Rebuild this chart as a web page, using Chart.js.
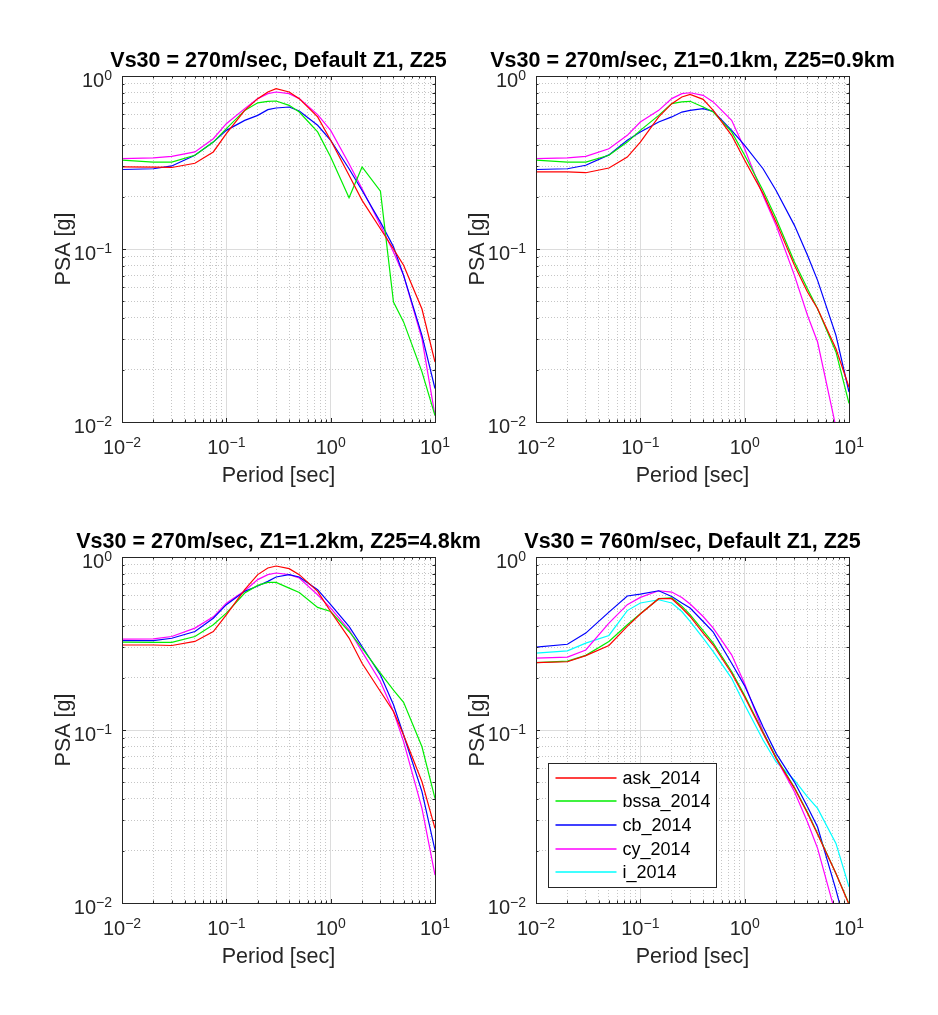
<!DOCTYPE html>
<html>
<head>
<meta charset="utf-8">
<script src="https://cdn.jsdelivr.net/npm/chart.js@4.4.0/dist/chart.umd.min.js"></script>
<style>
  body { margin: 0; background: #fff; }
  #fig { position: relative; width: 938px; height: 1015px; }
  #fig canvas { position: absolute; left: 0; top: 0; }
</style>
</head>
<body>
<div id="fig">
  <canvas id="c0" width="938" height="1015"></canvas>
  <canvas id="c1" width="938" height="1015"></canvas>
  <canvas id="c2" width="938" height="1015"></canvas>
  <canvas id="c3" width="938" height="1015"></canvas>
</div>
<script>
// --- Data ---
const periods = [0.01, 0.02, 0.03, 0.05, 0.075, 0.1, 0.15, 0.2, 0.25, 0.3, 0.4, 0.5, 0.75, 1, 1.5, 2, 3, 4, 5, 7.5, 10];
const modelNames = ["ask_2014", "bssa_2014", "cb_2014", "cy_2014", "i_2014"];
const panelTitles = [
  "Vs30 = 270m/sec, Default Z1, Z25",
  "Vs30 = 270m/sec, Z1=0.1km, Z25=0.9km",
  "Vs30 = 270m/sec, Z1=1.2km, Z25=4.8km",
  "Vs30 = 760m/sec, Default Z1, Z25"
];
const xMajorTicks = [0.01, 0.1, 1, 10];
const xTickLabels = ["10^-2", "10^-1", "10^0", "10^1"];
const yMajorTicks = [0.01, 0.1, 1];
const yTickLabels = ["10^-2", "10^-1", "10^0"];
const xAxisTitle = "Period [sec]";
const yAxisTitle = "PSA [g]";

// Vs30 = 270, default Z1, Z25
const ask1  = [0.298, 0.297, 0.296, 0.313, 0.364, 0.464, 0.633, 0.740, 0.808, 0.845, 0.808, 0.740, 0.580, 0.425, 0.267, 0.191, 0.131, 0.100, 0.0805, 0.045, 0.0222];
const bssa1 = [0.326, 0.318, 0.318, 0.348, 0.415, 0.496, 0.633, 0.700, 0.714, 0.717, 0.677, 0.619, 0.475, 0.340, 0.198, 0.298, 0.216, 0.0494, 0.0379, 0.0195, 0.0109];
const cb1   = [0.288, 0.291, 0.302, 0.348, 0.415, 0.485, 0.554, 0.592, 0.639, 0.653, 0.662, 0.628, 0.519, 0.425, 0.291, 0.218, 0.143, 0.103, 0.0704, 0.0317, 0.0156];
const cy1   = [0.333, 0.336, 0.343, 0.364, 0.434, 0.530, 0.648, 0.740, 0.791, 0.808, 0.791, 0.740, 0.598, 0.485, 0.311, 0.223, 0.137, 0.096, 0.0704, 0.0303, 0.0109];

// Vs30 = 270, Z1 = 0.1km, Z25 = 0.9km
const ask2  = [0.279, 0.279, 0.276, 0.294, 0.340, 0.415, 0.580, 0.692, 0.756, 0.783, 0.733, 0.633, 0.454, 0.326, 0.209, 0.143, 0.0805, 0.0564, 0.0452, 0.0265, 0.0159];
const bssa2 = [0.326, 0.318, 0.318, 0.348, 0.415, 0.485, 0.592, 0.692, 0.708, 0.714, 0.662, 0.619, 0.475, 0.348, 0.218, 0.150, 0.0841, 0.059, 0.0452, 0.0254, 0.0128];
const cb2   = [0.288, 0.291, 0.305, 0.350, 0.425, 0.474, 0.542, 0.580, 0.619, 0.633, 0.648, 0.625, 0.485, 0.397, 0.291, 0.218, 0.137, 0.0919, 0.0659, 0.0317, 0.0149];
const cy2   = [0.333, 0.336, 0.343, 0.380, 0.454, 0.542, 0.633, 0.740, 0.791, 0.800, 0.773, 0.708, 0.554, 0.380, 0.204, 0.137, 0.0704, 0.0414, 0.029, 0.0093, 0.0049];

// Vs30 = 270, Z1 = 1.2km, Z25 = 4.8km
const ask3  = [0.310, 0.310, 0.308, 0.325, 0.371, 0.463, 0.647, 0.791, 0.864, 0.887, 0.856, 0.791, 0.633, 0.484, 0.340, 0.243, 0.167, 0.128, 0.0935, 0.0502, 0.027];
const bssa3 = [0.322, 0.321, 0.321, 0.347, 0.406, 0.474, 0.619, 0.685, 0.713, 0.713, 0.661, 0.623, 0.511, 0.484, 0.371, 0.297, 0.213, 0.170, 0.1445, 0.080, 0.0402];
const cb3   = [0.329, 0.329, 0.339, 0.371, 0.443, 0.530, 0.633, 0.680, 0.723, 0.766, 0.791, 0.766, 0.647, 0.530, 0.397, 0.304, 0.208, 0.140, 0.0935, 0.044, 0.0202];
const cy3   = [0.335, 0.336, 0.347, 0.388, 0.451, 0.541, 0.638, 0.740, 0.791, 0.808, 0.791, 0.756, 0.605, 0.507, 0.379, 0.284, 0.190, 0.128, 0.0856, 0.0352, 0.0145];

// Vs30 = 760, default Z1, Z25
const ask4  = [0.245, 0.248, 0.269, 0.308, 0.397, 0.468, 0.574, 0.574, 0.507, 0.453, 0.363, 0.310, 0.213, 0.155, 0.0957, 0.0686, 0.046, 0.033, 0.025, 0.0148, 0.0098];
const bssa4 = [0.245, 0.250, 0.270, 0.325, 0.406, 0.470, 0.574, 0.580, 0.520, 0.465, 0.375, 0.318, 0.218, 0.158, 0.097, 0.0695, 0.0465, 0.0335, 0.0252, 0.0148, 0.0099];
const cb4   = [0.301, 0.313, 0.363, 0.480, 0.595, 0.610, 0.638, 0.591, 0.542, 0.507, 0.424, 0.368, 0.243, 0.180, 0.1045, 0.0733, 0.050, 0.036, 0.0275, 0.0119, 0.0062];
const cy4   = [0.260, 0.264, 0.290, 0.415, 0.530, 0.584, 0.638, 0.627, 0.584, 0.535, 0.453, 0.388, 0.272, 0.185, 0.098, 0.0686, 0.044, 0.0294, 0.0207, 0.0085, 0.004];
const i4    = [0.278, 0.287, 0.318, 0.352, 0.490, 0.542, 0.566, 0.542, 0.484, 0.424, 0.340, 0.284, 0.199, 0.140, 0.0875, 0.0655, 0.0513, 0.0411, 0.0352, 0.0221, 0.0124];

// --- Styles ---
const lineColors = ["#ff0000", "#00ee00", "#0000ff", "#ff00ff", "#00ffff"];
const axisColor = "#262626";
const fontFamily = "'Liberation Sans', Arial, Helvetica, sans-serif";

// chart areas in page pixels
const panels = [
  { id: "c0", title: panelTitles[0], series: [ask1, bssa1, cb1, cy1], area: { left: 122, top: 76, right: 435, bottom: 422 } },
  { id: "c1", title: panelTitles[1], series: [ask2, bssa2, cb2, cy2], area: { left: 536, top: 76, right: 849, bottom: 422 } },
  { id: "c2", title: panelTitles[2], series: [ask3, bssa3, cb3, cy3], area: { left: 122, top: 557, right: 435, bottom: 903 } },
  { id: "c3", title: panelTitles[3], series: [ask4, bssa4, cb4, cy4, i4], area: { left: 536, top: 557, right: 849, bottom: 903 }, legend: true }
];

// major decades plus 2..9 minor ticks between them
function withMinor(majors) {
  const out = [];
  majors.forEach((m, k) => {
    out.push({ value: m, major: true });
    if (k < majors.length - 1) {
      for (let j = 2; j <= 9; j++) out.push({ value: +(m * j).toPrecision(6), major: false });
    }
  });
  return out;
}

function axisOpts(majors) {
  return {
    type: "logarithmic",
    min: majors[0],
    max: majors[majors.length - 1],
    afterBuildTicks: (s) => { s.ticks = withMinor(majors); },
    ticks: { display: false },
    grid: {
      drawTicks: false,
      lineWidth: 1,
      color: (c) => (c.tick && c.tick.major ? "#dcdcdc" : "#c6c6c6")
    },
    border: { display: false, dash: (c) => (c.tick && c.tick.major ? [] : [1, 2]) },
    title: { display: false }
  };
}

// "10^-2" -> 10 with superscript
function drawPow(ctx, label, x, baseline, align) {
  const parts = label.split("^");
  const base = parts[0];
  const exp = (parts[1] || "").replace("-", "\u2212");
  ctx.font = "20px " + fontFamily;
  const wb = ctx.measureText(base).width;
  ctx.font = "14px " + fontFamily;
  const we = ctx.measureText(exp).width;
  const total = wb + we;
  const start = align === "right" ? x - total : x - total / 2;
  ctx.textAlign = "left";
  ctx.textBaseline = "alphabetic";
  ctx.font = "20px " + fontFamily;
  ctx.fillText(base, start, baseline);
  ctx.font = "14px " + fontFamily;
  ctx.fillText(exp, start + wb, baseline - 7);
}

const panelDeco = {
  id: "panelDeco",
  afterDraw(chart, args, opts) {
    const { ctx, chartArea: a } = chart;
    const xs = chart.scales.x, ys = chart.scales.y;
    ctx.save();

    // inward tick marks on all four sides
    ctx.strokeStyle = axisColor;
    ctx.lineWidth = 1;
    ctx.setLineDash([]);
    ctx.beginPath();
    xs.ticks.forEach((t) => {
      const px = Math.round(xs.getPixelForValue(t.value)) + 0.5;
      const len = t.major ? 4 : 2.5;
      ctx.moveTo(px, a.bottom); ctx.lineTo(px, a.bottom - len);
      ctx.moveTo(px, a.top); ctx.lineTo(px, a.top + len);
    });
    ys.ticks.forEach((t) => {
      const py = Math.round(ys.getPixelForValue(t.value)) + 0.5;
      const len = t.major ? 4 : 2.5;
      ctx.moveTo(a.left, py); ctx.lineTo(a.left + len, py);
      ctx.moveTo(a.right, py); ctx.lineTo(a.right - len, py);
    });
    ctx.stroke();
    ctx.strokeRect(Math.round(a.left) + 0.5, Math.round(a.top) + 0.5, Math.round(a.right - a.left), Math.round(a.bottom - a.top));

    // tick labels
    ctx.fillStyle = axisColor;
    xMajorTicks.forEach((v, i) => drawPow(ctx, xTickLabels[i], xs.getPixelForValue(v), a.bottom + 32, "center"));
    yMajorTicks.forEach((v, i) => drawPow(ctx, yTickLabels[i], a.left - 10, ys.getPixelForValue(v) + 11, "right"));

    // axis titles
    ctx.font = "21.5px " + fontFamily;
    ctx.textAlign = "center";
    ctx.textBaseline = "alphabetic";
    ctx.fillText(xAxisTitle, (a.left + a.right) / 2, a.bottom + 60);
    ctx.save();
    ctx.translate(a.left - 52, (a.top + a.bottom) / 2);
    ctx.rotate(-Math.PI / 2);
    ctx.fillText(yAxisTitle, 0, 0);
    ctx.restore();

    // panel title
    ctx.fillStyle = "#000";
    ctx.font = "bold 21.5px " + fontFamily;
    ctx.fillText(opts.title, (a.left + a.right) / 2, a.top - 9);

    // legend box inside the axes
    if (opts.legend) {
      const bx = Math.round(a.left + 12) + 0.5, by = Math.round(a.top + 206) + 0.5, bw = 168, bh = 124;
      ctx.fillStyle = "#fff";
      ctx.fillRect(bx, by, bw, bh);
      ctx.strokeStyle = axisColor;
      ctx.lineWidth = 1;
      ctx.strokeRect(bx, by, bw, bh);
      ctx.font = "18px " + fontFamily;
      ctx.textAlign = "left";
      ctx.textBaseline = "middle";
      chart.data.datasets.forEach((ds, i) => {
        const ry = Math.round(by + 14 + i * 23.7);
        ctx.beginPath();
        ctx.strokeStyle = lineColors[i];
        ctx.lineWidth = 1.6;
        ctx.moveTo(bx + 7, ry);
        ctx.lineTo(bx + 68, ry);
        ctx.stroke();
        ctx.fillStyle = "#000";
        ctx.fillText(ds.label, bx + 74, ry + 1);
      });
    }
    ctx.restore();
  }
};

panels.forEach((p) => {
  const datasets = p.series.map((vals, k) => ({
    label: modelNames[k],
    data: periods.map((t, i) => ({ x: t, y: vals[i] })),
    borderColor: lineColors[k],
    borderWidth: 1.2,
    pointRadius: 0,
    fill: false,
    tension: 0
  }));
  new Chart(document.getElementById(p.id).getContext("2d"), {
    type: "line",
    data: { datasets },
    options: {
      responsive: false,
      animation: false,
      events: [],
      layout: {
        padding: { left: p.area.left, top: p.area.top, right: 938 - p.area.right, bottom: 1015 - p.area.bottom }
      },
      scales: { x: axisOpts(xMajorTicks), y: axisOpts(yMajorTicks) },
      plugins: {
        legend: { display: false },
        tooltip: { enabled: false },
        panelDeco: { title: p.title, legend: !!p.legend }
      }
    },
    plugins: [panelDeco]
  });
});
</script>
</body>
</html>
